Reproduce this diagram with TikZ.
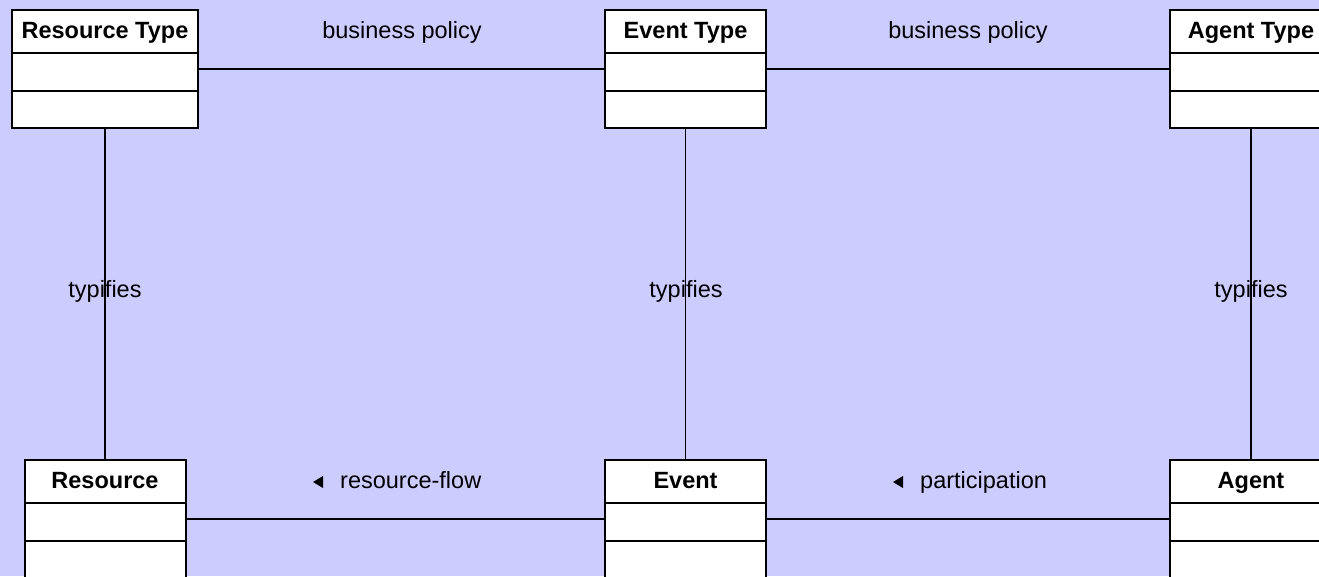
\documentclass[tikz,border=0pt]{standalone}
\usepackage{fontspec}
\setmainfont{Liberation Sans}
\definecolor{bg}{HTML}{CCCCFF}
\begin{document}
\begin{tikzpicture}[x=1pt,y=-1pt,
  classbox/.style={draw=black, fill=white, line width=2pt, minimum height=118pt, inner sep=0pt, outer sep=0pt, anchor=north west},
  divline/.style={draw=black, line width=2pt},
  conn/.style={draw=black, line width=1.3pt},
  title/.style={font=\fontsize{23.5pt}{28pt}\selectfont\bfseries, anchor=base, inner sep=0pt},
  lbl/.style={font=\fontsize{23.5pt}{28pt}\selectfont, anchor=base, inner sep=0pt},
  dirtri/.style={fill=black}]
\useasboundingbox (0,0) rectangle (1319,576);
\clip (0,0) rectangle (1319,576);
\fill[bg] (0,0) rectangle (1319,576);
% connectors first
\node[classbox, minimum width=186pt] (rt) at (12,10) {};
\node[classbox, minimum width=161pt] (et) at (605,10) {};
\node[classbox, minimum width=162pt] (at) at (1170,10) {};
\node[classbox, minimum width=161pt] (r) at (24.5,460) {};
\node[classbox, minimum width=161pt] (e) at (605,460) {};
\node[classbox, minimum width=162pt] (a) at (1170,460) {};
\draw[conn] (rt) -- (et);
\draw[conn] (et) -- (at);
\draw[conn] (r) -- (e);
\draw[conn] (e) -- (a);
\draw[conn] (rt) -- (r);
\draw[conn] (et) -- (e);
\draw[conn] (at) -- (a);
\foreach \n in {rt,et,at,r,e,a}{
  \draw[divline] ([yshift=-43pt]\n.north west) -- ([yshift=-43pt]\n.north east);
  \draw[divline] ([yshift=-80.7pt]\n.north west) -- ([yshift=-80.7pt]\n.north east);
}
\node[title] (trt) at ([yshift=-28.3pt]rt.north) {Resource Type};
\node[title] (tet) at ([yshift=-28.3pt]et.north) {Event Type};
\node[title] (tat) at ([yshift=-28.3pt]at.north) {Agent Type};
\node[title] (tr) at ([yshift=-28.3pt]r.north) {Resource};
\node[title] (te) at ([yshift=-28.3pt]e.north) {Event};
\node[title] (ta) at ([yshift=-28.3pt]a.north) {Agent};
% labels
\node[lbl] (bp1) at (402,38) {business policy};
\node[lbl] (bp2) at (968,38) {business policy};
\node[lbl] (ty1) at (105,297) {typifies};
\node[lbl] (ty2) at (686,297) {typifies};
\node[lbl] (ty3) at (1251,297) {typifies};
\node[lbl, anchor=base west] (rf) at (340,488) {resource-flow};
\node[lbl, anchor=base west] (pa) at (920,488) {participation};
\fill[dirtri] (313,482) -- (323,476) -- (323,488) -- cycle;
\fill[dirtri] (893,482) -- (903,476) -- (903,488) -- cycle;
\end{tikzpicture}
\end{document}
